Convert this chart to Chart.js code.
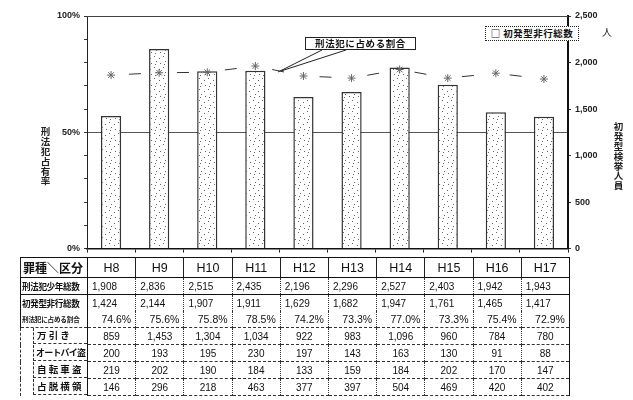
<!DOCTYPE html>
<html><head><meta charset="utf-8">
<script src="https://cdn.jsdelivr.net/npm/chart.js@4"></script>
<style>
html,body{margin:0;padding:0;background:#fff;width:633px;height:400px;overflow:hidden;position:relative;font-family:"Liberation Sans","Noto Sans CJK JP",sans-serif;color:#111;}
#c{position:absolute;left:0;top:0;}
.vt{position:absolute;writing-mode:vertical-rl;text-orientation:upright;font-family:"Noto Sans CJK JP";font-size:9.5px;font-weight:bold;color:#222;line-height:1;letter-spacing:0.3px;}
.note{position:absolute;font-family:"Noto Sans CJK JP";font-weight:bold;font-size:9.5px;color:#111;background:#fff;text-align:center;box-sizing:border-box;line-height:11px;}
#callout{left:305px;top:37px;width:111px;height:13px;border:1px solid #222;letter-spacing:0.6px;}
#legend{left:485px;top:26px;width:94px;height:15px;border:1px dotted #222;line-height:13px;letter-spacing:0.5px;}
#unit{position:absolute;left:602px;top:24px;font-family:"Noto Sans CJK JP";font-size:10px;color:#222;}
#tbl{position:absolute;left:20px;top:257px;border-collapse:collapse;table-layout:fixed;width:549px;}
#tbl td{padding:0;font-size:10px;color:#111;border-left:1px dotted #333;border-right:1px dotted #333;height:16px;line-height:15px;white-space:nowrap;overflow:hidden;}
#tbl tr.head td{height:19px;line-height:18px;font-size:12.5px;text-align:center;border-top:1.5px solid #111;border-bottom:1.5px solid #111;border-left:1px solid #222;}
#tbl td.lab{border-left:1.5px solid #111;border-right:1.5px solid #111;font-family:"Noto Sans CJK JP";font-weight:bold;font-size:8.6px;letter-spacing:-0.4px;padding-left:1px;}
#tbl tr.head td.lab{font-size:12px;letter-spacing:0;padding-left:2px;text-align:left;}
#tbl td.last{border-right:1.5px solid #111;}
#tbl tr.r1 td{border-bottom:1.2px solid #111;}
#tbl tr.r1 td.num,#tbl tr.r2 td.num{text-align:left;padding-left:4px;font-size:10px;}
#tbl tr.r3 td.num{text-align:right;padding-right:4px;font-size:10.5px;}
#tbl tr.r3 td{border-bottom:1px dashed #333;}
#tbl tr.r3 td.lab{font-size:6.6px;letter-spacing:-0.2px;font-weight:bold;}
#tbl tr.sub td{border-bottom:1px dashed #333;}
#tbl tr.sub td.num{text-align:center;font-size:10px;}
#tbl tr.sub td.lab{padding-left:12px;border-bottom:none;border-left:1px dashed #333;font-size:9.5px;letter-spacing:0;}
#tbl tr.sub td.lab div{border-left:1px dashed #333;border-bottom:1px dashed #333;height:16px;line-height:15px;padding-left:3px;box-sizing:border-box;}
#tbl tr.sub td.lab div.tight{letter-spacing:-0.8px;padding-left:2px;font-size:9px;}
</style>
</head><body>
<canvas id="c" width="633" height="258"></canvas>
<div class="vt" style="left:40px;top:127px;">刑法犯占有率</div>
<div class="vt" style="left:613px;top:122px;">初発型検挙人員</div>
<div id="unit">人</div>
<svg style="position:absolute;left:0;top:0" width="633" height="258">
  <line x1="322" y1="50" x2="278" y2="72" stroke="#222" stroke-width="1"/>
  <line x1="346" y1="50" x2="281" y2="71" stroke="#222" stroke-width="1"/>
</svg>
<div id="callout" class="note">刑法犯に占める割合</div>
<div id="legend" class="note">□ 初発型非行総数</div>
<table id="tbl"></table>
<script>
const years = ['H8','H9','H10','H11','H12','H13','H14','H15','H16','H17'];
const delinquencyTotal = [1424,2144,1907,1911,1629,1682,1947,1761,1465,1417];
const shareOfPenal = [74.6,75.6,75.8,78.5,74.2,73.3,77.0,73.3,75.4,72.9];
const penalJuvenileTotal = [1908,2836,2515,2435,2196,2296,2527,2403,1942,1943];
const shoplifting = [859,1453,1304,1034,922,983,1096,960,784,780];
const motorcycleTheft = [200,193,195,230,197,143,163,130,91,88];
const bicycleTheft = [219,202,190,184,133,159,184,202,170,147];
const embezzlement = [146,296,218,463,377,397,504,469,420,402];
const leftTickLabels = [0,50,100];
const rowLabels = ['罪種＼区分','刑法犯少年総数','初発型非行総数','刑法犯に占める割合','万 引 き','オートバイ盗','自 転 車 盗','占 脱 横 領'];

// table
const fmt = v => v.toLocaleString('en-US');
const tbl = document.getElementById('tbl');
let html = '<colgroup><col style="width:67px">' + years.map(()=>'<col style="width:48.2px">').join('') + '</colgroup>';
const cells = (arr, f) => arr.map((v,i)=>'<td class="num'+(i===arr.length-1?' last':'')+'">'+f(v)+'</td>').join('');
html += '<tr class="head"><td class="lab">'+rowLabels[0]+'</td>'+years.map((y,i)=>'<td'+(i===years.length-1?' class="last"':'')+'>'+y+'</td>').join('')+'</tr>';
html += '<tr class="r1"><td class="lab">'+rowLabels[1]+'</td>'+cells(penalJuvenileTotal,fmt)+'</tr>';
html += '<tr class="r2"><td class="lab">'+rowLabels[2]+'</td>'+cells(delinquencyTotal,fmt)+'</tr>';
html += '<tr class="r3"><td class="lab">'+rowLabels[3]+'</td>'+cells(shareOfPenal,v=>v.toFixed(1)+'%')+'</tr>';
[shoplifting,motorcycleTheft,bicycleTheft,embezzlement].forEach((arr,k)=>{
  html += '<tr class="sub"><td class="lab"><div'+(k===1?' class="tight"':'')+'>'+rowLabels[4+k]+'</div></td>'+cells(arr,fmt)+'</tr>';
});
tbl.innerHTML = html;

// chart
const canvas = document.getElementById('c');
const ctx = canvas.getContext('2d');
const pcv = document.createElement('canvas'); pcv.width = 9; pcv.height = 11;
const pc = pcv.getContext('2d');
pc.fillStyle = '#fff'; pc.fillRect(0,0,9,11);
pc.fillStyle = '#666';
[[1,1],[6,3],[3,6],[7,8],[2,9]].forEach(([x,y])=>pc.fillRect(x,y,1,1));
const dots = ctx.createPattern(pcv,'repeat');

const topFrame = {
  id:'topFrame',
  beforeDatasetsDraw(chart){
    const a = chart.chartArea, c = chart.ctx;
    c.save(); c.strokeStyle = '#444'; c.lineWidth = 1;
    c.beginPath(); c.moveTo(a.left, a.top+0.5); c.lineTo(a.right, a.top+0.5); c.stroke();
    c.restore();
  }
};
const tickFont = {family:'Liberation Sans', size:9, weight:'bold'};
new Chart(ctx,{
  data:{labels:years,datasets:[
    {type:'line',label:'刑法犯に占める割合',data:shareOfPenal,yAxisID:'yL',borderColor:'#333',borderWidth:1,
     borderDash:[12,36],borderDashOffset:30,pointStyle:'star',pointRadius:4,pointBorderColor:'#666',pointBorderWidth:1,
     pointBackgroundColor:'#fff',order:0,fill:false,tension:0},
    {type:'bar',label:'初発型非行総数',data:delinquencyTotal,yAxisID:'yR',backgroundColor:dots,borderColor:'#333',
     borderWidth:1.5,barPercentage:0.42,categoryPercentage:1,order:1}
  ]},
  options:{
    responsive:false, animation:false, devicePixelRatio:1,
    layout:{padding:{top:16,left:0,right:0,bottom:0}},
    plugins:{legend:{display:false},tooltip:{enabled:false}},
    scales:{
      x:{grid:{drawOnChartArea:false,offset:true,tickLength:4,color:'#222'},ticks:{display:false},
         border:{color:'#111',width:1.5},afterFit(s){s.height=8;}},
      yL:{position:'left',min:0,max:100,
          ticks:{stepSize:10,autoSkip:false,callback:v=>leftTickLabels.includes(v)?v+'%':'',font:tickFont,color:'#222',padding:4},
          grid:{color:c=>(c.tick&&c.tick.value===50)?'#555':'rgba(0,0,0,0)',tickColor:'#333',tickLength:3},
          border:{color:'#222',width:1},afterFit(s){s.width=87;}},
      yR:{position:'right',min:0,max:2500,
          ticks:{stepSize:500,callback:v=>fmt(v),font:tickFont,color:'#222',padding:4},
          grid:{drawOnChartArea:false,tickLength:3,tickColor:'#333'},
          border:{color:'#111',width:2},afterFit(s){s.width=65;}}
    }
  },
  plugins:[topFrame]
});
</script>
</body></html>
